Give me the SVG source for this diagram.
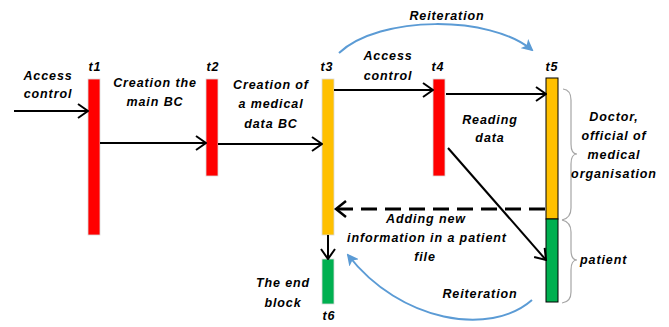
<svg xmlns="http://www.w3.org/2000/svg" width="669" height="327" viewBox="0 0 669 327">
  <style>
    text { font-family: "Liberation Sans", Arial, sans-serif; font-weight: bold; font-style: italic; font-size: 12.5px; fill: #000; letter-spacing: 0.9px; }
    .c { text-anchor: middle; }
    .flow { stroke: #000; stroke-width: 2; fill: none; }
    .dash { stroke: #000; stroke-width: 3; fill: none; stroke-dasharray: 16 8; }
    .loop { stroke: #5B9BD5; stroke-width: 2; fill: none; }
    .brace { stroke: #A6A6A6; stroke-width: 1.2; fill: none; }
    .red { fill: #FF0000; stroke: #D9D9D9; stroke-width: 0.8; }
    .yellow { fill: #FFC000; stroke: #D9D9D9; stroke-width: 0.8; }
    .green { fill: #00B050; stroke: #D9D9D9; stroke-width: 0.8; }
  </style>
  <defs>
    <marker id="chev" viewBox="0 0 12 16" refX="11" refY="8" markerWidth="12" markerHeight="16" markerUnits="userSpaceOnUse" orient="auto">
      <path d="M1 1 L11 8 L1 15" fill="none" stroke="#000" stroke-width="2"/>
    </marker>
    <marker id="blue" viewBox="0 0 12 12" refX="10" refY="6" markerWidth="12" markerHeight="12" markerUnits="userSpaceOnUse" orient="auto">
      <path d="M0 0 L12 6 L0 12 L3 6 Z" fill="#5B9BD5"/>
    </marker>
  </defs>

  <!-- time points -->
  <g id="t1">
    <rect class="red" x="88" y="79" width="12" height="156"/>
    <text class="c" x="95" y="71">t1</text>
  </g>
  <g id="t2">
    <rect class="red" x="206" y="79" width="12" height="97"/>
    <text class="c" x="213" y="71">t2</text>
  </g>
  <g id="t3">
    <rect class="yellow" x="322" y="79" width="12" height="156"/>
    <text class="c" x="327" y="71">t3</text>
  </g>
  <g id="t4">
    <rect class="red" x="433" y="79" width="12" height="97"/>
    <text class="c" x="438" y="71">t4</text>
  </g>
  <g id="t5">
    <rect x="546" y="78" width="12" height="141" fill="#FFC000" stroke="#000" stroke-width="1"/>
    <rect x="546" y="219" width="12" height="83" fill="#00B050" stroke="#000" stroke-width="1"/>
    <text class="c" x="552" y="71">t5</text>
  </g>
  <g id="t6">
    <rect class="green" x="322" y="259" width="12" height="45"/>
    <text class="c" x="329" y="320">t6</text>
  </g>

  <!-- connectors -->
  <g id="connectors">
    <line class="flow" x1="14" y1="111" x2="88" y2="111" marker-end="url(#chev)"/>
    <line class="flow" x1="100" y1="143" x2="206" y2="143" marker-end="url(#chev)"/>
    <line class="flow" x1="218" y1="144" x2="322" y2="144" marker-end="url(#chev)"/>
    <line class="flow" x1="334" y1="90" x2="433" y2="90" marker-end="url(#chev)"/>
    <line class="flow" x1="446" y1="94" x2="546" y2="94" marker-end="url(#chev)"/>
    <line class="flow" x1="448" y1="148" x2="546" y2="260" marker-end="url(#chev)"/>
    <line class="flow" x1="328" y1="235" x2="328" y2="259" marker-end="url(#chev)"/>
    <line class="dash" x1="545" y1="209" x2="336" y2="209"/>
    <path d="M346 201 L336 209 L346 217" fill="none" stroke="#000" stroke-width="2.5"/>
    <path class="loop" d="M339 53 C 380 15, 490 15, 532 50" marker-end="url(#blue)"/>
    <path class="loop" d="M532 300 C 490 337, 400 322, 348 255" marker-end="url(#blue)"/>
  </g>

  <!-- role braces -->
  <g id="braces">
    <path class="brace" d="M563 89 Q571 90 571 100 L571 144 Q571 154 577 154 Q571 154 571 164 L571 208 Q571 218 562 220"/>
    <path class="brace" d="M562 220 Q571 222 571 232 L571 250 Q571 260 577 260 Q571 260 571 270 L571 292 Q571 302 562 303"/>
  </g>

  <!-- labels -->
  <g id="labels">
    <text class="c" x="48" y="80">Access</text>
    <text class="c" x="48" y="98">control</text>
    <text class="c" x="155" y="87">Creation the</text>
    <text class="c" x="155" y="106">main BC</text>
    <text class="c" x="271" y="89">Creation of</text>
    <text class="c" x="271" y="108">a medical</text>
    <text class="c" x="271" y="128">data BC</text>
    <text class="c" x="447" y="20">Reiteration</text>
    <text class="c" x="388" y="60">Access</text>
    <text class="c" x="388" y="80">control</text>
    <text class="c" x="490" y="124">Reading</text>
    <text class="c" x="490" y="142">data</text>
    <text class="c" x="614" y="121">Doctor,</text>
    <text class="c" x="614" y="140">official of</text>
    <text class="c" x="614" y="159">medical</text>
    <text class="c" x="614" y="178">organisation</text>
    <text class="c" x="426" y="223">Adding new</text>
    <text class="c" x="427" y="242">information in a patient</text>
    <text class="c" x="425" y="261">file</text>
    <text x="580" y="264">patient</text>
    <text class="c" x="480" y="298">Reiteration</text>
    <text class="c" x="283" y="287">The end</text>
    <text class="c" x="283" y="307">block</text>
  </g>
</svg>
